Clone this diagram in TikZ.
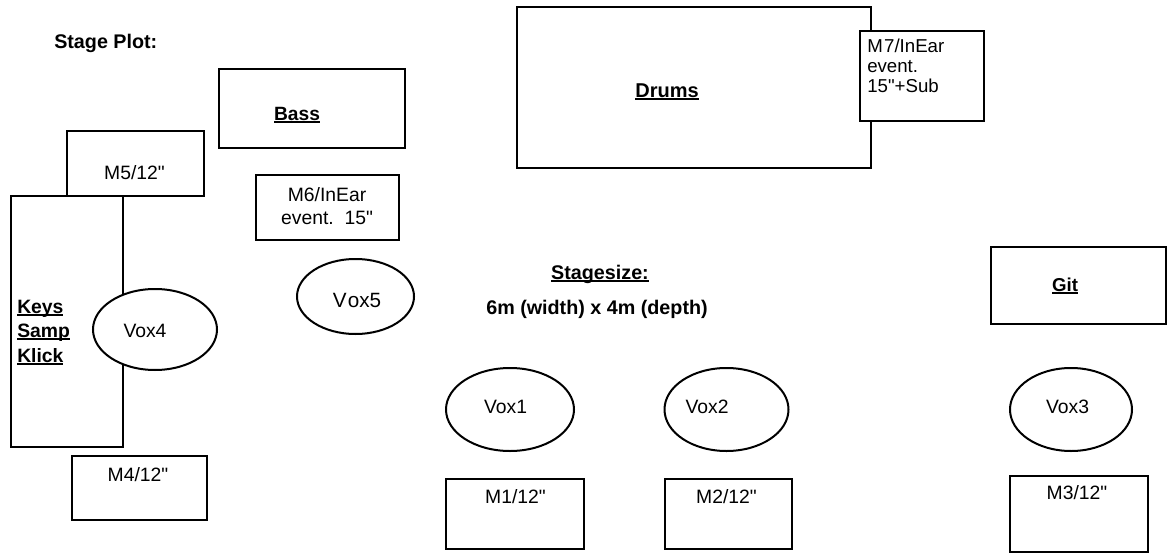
\documentclass[tikz,border=0pt]{standalone}
\usepackage{fontspec}
\setmainfont{Liberation Sans}
\usetikzlibrary{shapes.geometric,fit}
\newcommand\ulx[1]{\setbox0=\hbox{#1}\rlap{\rule[-2.2pt]{\wd0}{1.1pt}}\box0}
\newcommand\qq{\textquotedbl}
\tikzset{
  box/.style={draw, line width=1.5pt, fill=white, inner sep=0pt, outer sep=0pt},
  oval/.style={draw, ellipse, line width=1.5pt, fill=white, inner sep=0pt},
  txt/.style={inner sep=0pt, anchor=base, font=\fontsize{14.5}{17}\selectfont},
  txtl/.style={txt, anchor=base west},
  bld/.style={txt, font=\fontsize{14.5}{17}\selectfont\bfseries},
}
\begin{document}
\begin{tikzpicture}[x=0.75pt,y=-0.75pt]
\useasboundingbox (0,0) rectangle (1168,553);
% left side
\node[txtl, font=\fontsize{14.8}{17}\selectfont\bfseries] (title) at (54,48) {Stage Plot:};
\node[box, fit={(219,69) (405,148)}] (bass) {};
\node[bld, font=\fontsize{14.4}{17}\selectfont\bfseries] (basst) at (297,120) {\ulx{Bass}};
\node[box, fit={(67,131) (204,196)}] (m5) {};
\node[txt] (m5t) at (134.5,179) {M5/12\qq};
\node[box, fit={(256,175) (399,240)}] (m6) {};
\node[txt] (m6a) at (327,201) {M6/InEar};
\node[txt] (m6b) at (327,224) {event.\ \ 15\qq};
\node[box, fit={(11,196) (123,447)}] (keys) {};
\node[txtl, font=\fontsize{14.5}{17}\selectfont\bfseries] (k1) at (17,313) {\ulx{Keys}};
\node[txtl, font=\fontsize{14.5}{17}\selectfont\bfseries] (k2) at (17,337) {\ulx{Samp}};
\node[txtl, font=\fontsize{14.5}{17}\selectfont\bfseries] (k3) at (17,362) {\ulx{Klick}};
\node[oval, minimum width=93pt, minimum height=60.75pt] (vox4) at (155,329.5) {};
\node[txt] (vox4t) at (145,337) {Vox4};
\node[oval, minimum width=87.75pt, minimum height=56.25pt] (vox5) at (355.5,296.5) {};
\node[txt, font=\fontsize{15.5}{17}\selectfont] (vox5t) at (357,307) {V\kern1pt ox5};
\node[box, fit={(72,456) (207,520)}] (m4) {};
\node[txt] (m4t) at (138,481) {M4/12\qq};
% drums
\node[box, fit={(517,7) (871,168)}] (drums) {};
\node[bld, font=\fontsize{15}{17}\selectfont\bfseries] (drumst) at (667,97) {\ulx{Drums}};
\node[box, fit={(860,31) (984,121)}] (m7) {};
\node[txtl, font=\fontsize{14}{15}\selectfont] (m7a) at (867,52) {M\kern1pt 7/InEar};
\node[txtl, font=\fontsize{14}{15}\selectfont] (m7b) at (867,72) {event.};
\node[txtl, font=\fontsize{14}{15}\selectfont] (m7c) at (867,92) {15\qq+Sub};
% stage size
\node[bld, font=\fontsize{14.8}{17}\selectfont\bfseries] (ss) at (600,279) {\ulx{Stagesize:}};
\node[bld, font=\fontsize{14.8}{17}\selectfont\bfseries] (dim) at (597,314) {6m (width) x 4m (depth)};
% git
\node[box, fit={(991,247) (1166,324)}] (git) {};
\node[bld, font=\fontsize{14}{17}\selectfont\bfseries] (gitt) at (1065,291) {\ulx{Git}};
% front vocals
\node[oval, minimum width=96pt, minimum height=62.25pt] (vox1) at (510,409.5) {};
\node[txt] (vox1t) at (505.5,413) {Vox1};
\node[oval, minimum width=93pt, minimum height=62.25pt] (vox2) at (726.5,409.5) {};
\node[txt] (vox2t) at (707,413) {Vox2};
\node[oval, minimum width=91.5pt, minimum height=62.25pt] (vox3) at (1071,409.5) {};
\node[txt] (vox3t) at (1067.5,413) {Vox3};
% monitors
\node[box, fit={(446,479) (584,549)}] (m1) {};
\node[txt] (m1t) at (515.5,503) {M1/12\qq};
\node[box, fit={(665,479) (792,549)}] (m2) {};
\node[txt] (m2t) at (726.5,503) {M2/12\qq};
\node[box, fit={(1010,476) (1148,552)}] (m3) {};
\node[txt] (m3t) at (1077,499) {M3/12\qq};
\end{tikzpicture}
\end{document}
